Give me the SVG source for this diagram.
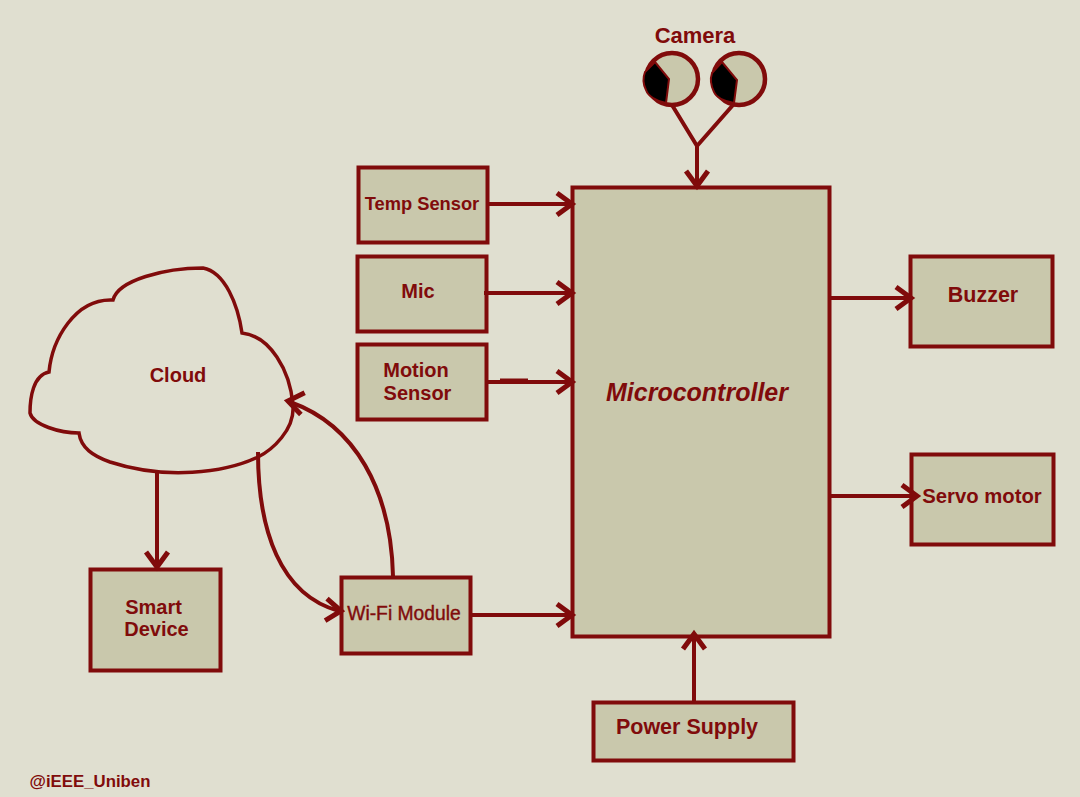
<svg xmlns="http://www.w3.org/2000/svg" width="1080" height="797" viewBox="0 0 1080 797">
<style>
.box{fill:#c9c8ac;stroke:#800b0b;stroke-width:4}
.t{font-family:"Liberation Sans",Arial,sans-serif;font-weight:bold;fill:#800b0b;font-size:20px;text-anchor:middle}
.w{stroke:#800b0b;stroke-width:4;fill:none}
.h{stroke:#800b0b;stroke-width:5;fill:none}
.lens{fill:#c9c8ac;stroke:#800b0b;stroke-width:4.500}
.pupil{fill:#000;stroke:#800b0b;stroke-width:2}
</style>
<defs>
<path id="a" d="M-15,-11 L0,0 L-15,11" class="h"/>
</defs>
<rect width="1080" height="797" fill="#e0dfd0"/>
<g id="cloud">
<path d="M113,300C118,280 165,268 203,268C225,272 238,305 242,333C270,336 290,370 293,405C295,430 272,450 258,457C225,473 165,480 110,462C93,456 81,448 79,433C60,433 33,425 30,413C30,398 33,375 49,372C52,340 75,298 113,300Z" fill="#e0dfd0" stroke="#800b0b" stroke-width="3.500"/>
<text class="t" x="178" y="382">Cloud</text>
</g>
<g id="temp-sensor"><rect class="box" x="358.500" y="167.500" width="129" height="75"/><text class="t" x="422" y="209.500" style="font-size:18.300px">Temp Sensor</text></g>
<g id="mic"><rect class="box" x="357.500" y="256.500" width="129" height="75"/><text class="t" x="418" y="298">Mic</text></g>
<g id="motion-sensor"><rect class="box" x="357.500" y="344.500" width="129" height="75"/><text class="t" x="416" y="377" style="font-size:20px">Motion</text><text class="t" x="417.500" y="400" style="font-size:20px">Sensor</text></g>
<g id="microcontroller"><rect class="box" x="572.500" y="187.500" width="257" height="449"/><text class="t" x="697" y="401" style="font-size:25px;font-style:italic">Microcontroller</text></g>
<g id="buzzer"><rect class="box" x="910.500" y="256.500" width="142" height="90"/><text class="t" x="983" y="302" style="font-size:21.500px">Buzzer</text></g>
<g id="servo"><rect class="box" x="911.500" y="454.500" width="142" height="90"/><text class="t" x="982" y="503" style="font-size:20.300px">Servo motor</text></g>
<g id="wifi"><rect class="box" x="341.500" y="577.500" width="129" height="76"/><text class="t" x="404" y="620" style="font-size:19.300px;font-weight:normal;stroke:#800b0b;stroke-width:.4">Wi-Fi Module</text></g>
<g id="smart-device"><rect class="box" x="90.500" y="569.500" width="130" height="101"/><text class="t" x="153.500" y="614">Smart</text><text class="t" x="156.500" y="636">Device</text></g>
<g id="power-supply"><rect class="box" x="593.500" y="702.500" width="200" height="58"/><text class="t" x="687" y="734" style="font-size:21.500px">Power Supply</text></g>
<g id="camera">
<text class="t" x="695" y="43" style="font-size:22px">Camera</text>
<g id="lens-left"><circle class="lens" cx="672" cy="79" r="26"/><path class="pupil" d="M655,62L669,79L666,103C656,101 648,96 646,90C643,84 643,77 645,72Z"/></g>
<g id="lens-right"><circle class="lens" cx="739" cy="79" r="26"/><path class="pupil" d="M722,62L737,80L734,103C724,101 716,97 714,92C711,86 710,79 712,73Z"/></g>
</g>
<text class="t" x="90" y="787" style="font-size:16.800px">@iEEE_Uniben</text>
<g id="connectors">
<path class="w" d="M488,204H571"/><use href="#a" x="572" y="204"/>
<path class="w" d="M484,293H571"/><use href="#a" x="572" y="293"/>
<path class="w" d="M486,382H571"/><path class="w" d="M500,380.500H528"/><use href="#a" x="572" y="382"/>
<path class="w" d="M470,615H571"/><use href="#a" x="572" y="615"/>
<path class="w" d="M830,298H911"/><use href="#a" x="911" y="298"/>
<path class="w" d="M830,496H916"/><use href="#a" x="917" y="496"/>
<path class="w" d="M694,701V634"/><use href="#a" transform="translate(694,634) rotate(-90)"/>
<path class="w" d="M672,105L697,146L733,105"/><path class="w" d="M697,146V186"/><use href="#a" transform="translate(697,186) rotate(90)"/>
<path class="w" d="M157,472V567"/><use href="#a" transform="translate(157,567) rotate(90)"/>
<path class="w" d="M258,452C258,530 280,595 339,611"/><use href="#a" transform="translate(341,611) rotate(5)"/>
<path class="w" d="M393,576C391,490 355,425 290,402"/><use href="#a" transform="translate(288,401) rotate(-170)"/>
</g>
</svg>
